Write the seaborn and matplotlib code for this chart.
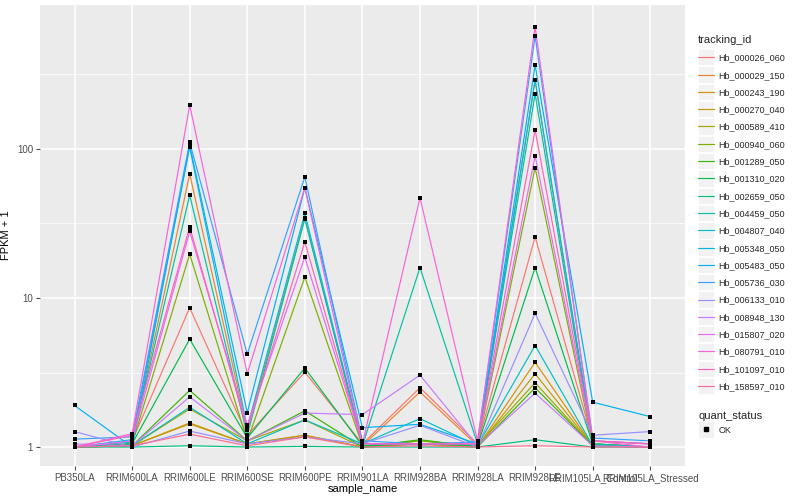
import numpy as np
import pandas as pd
import matplotlib
matplotlib.use("Agg")
import matplotlib.pyplot as plt
from matplotlib.lines import Line2D
from matplotlib.patches import Rectangle
from matplotlib.legend_handler import HandlerLine2D
import seaborn as sns

samples = ["PB350LA", "RRIM600LA", "RRIM600LE", "RRIM600SE", "RRIM600PE", "RRIM901LA",
           "RRIM928BA", "RRIM928LA", "RRIM928LE", "RRIM105LA_Control", "RRIM105LA_Stressed"]

tracking_ids = ["Hb_000026_060", "Hb_000029_150", "Hb_000243_190", "Hb_000270_040",
                "Hb_000589_410", "Hb_000940_060", "Hb_001289_050", "Hb_001310_020",
                "Hb_002659_050", "Hb_004459_050", "Hb_004807_040", "Hb_005348_050",
                "Hb_005483_050", "Hb_005736_030", "Hb_006133_010", "Hb_008948_130",
                "Hb_015807_020", "Hb_080791_010", "Hb_101097_010", "Hb_158597_010"]

v_000026_060 = [1.0, 1.10, 8.6, 1.20, 3.18, 1.05, 2.50, 1.05, 25.7, 1.10, 1.05]
v_000029_150 = [1.0, 1.05, 68, 1.30, 34.5, 1.02, 2.34, 1.02, 290, 1.05, 1.00]
v_000243_190 = [1.0, 1.02, 1.43, 1.05, 1.20, 1.00, 1.05, 1.00, 3.7, 1.02, 1.00]
v_000270_040 = [1.0, 1.02, 1.45, 1.05, 1.20, 1.00, 1.05, 1.00, 3.1, 1.02, 1.00]
v_000589_410 = [1.0, 1.02, 1.80, 1.10, 1.52, 1.00, 1.10, 1.02, 2.7, 1.02, 1.00]
v_000940_060 = [1.0, 1.05, 19.7, 1.10, 13.8, 1.02, 1.10, 1.02, 75, 1.05, 1.00]
v_001289_050 = [1.0, 1.02, 2.40, 1.10, 1.75, 1.00, 1.12, 1.00, 2.5, 1.02, 1.00]
v_001310_020 = [1.0, 1.05, 5.3, 1.15, 3.39, 1.02, 1.05, 1.02, 16, 1.05, 1.00]
v_002659_050 = [1.0, 1.00, 1.02, 1.00, 1.01, 1.00, 1.00, 1.00, 1.12, 1.00, 1.00]
v_004459_050 = [1.0, 1.08, 49, 1.20, 34, 1.02, 16, 1.05, 234, 1.05, 1.00]
v_004807_040 = [1.0, 1.02, 1.85, 1.05, 1.52, 1.05, 1.55, 1.02, 4.8, 1.02, 1.00]
v_005348_050 = [1.0, 1.12, 103, 1.35, 37, 1.05, 1.05, 1.05, 290, 1.10, 1.05]
v_005483_050 = [1.9, 1.00, 106, 1.70, 55, 1.35, 1.42, 1.05, 366, 2.00, 1.60]
v_005736_030 = [1.13, 1.17, 111, 4.20, 65, 1.10, 1.05, 1.08, 573, 1.15, 1.10]
v_006133_010 = [1.27, 1.00, 1.28, 1.05, 1.17, 1.05, 1.40, 1.00, 7.9, 1.20, 1.27]
v_008948_130 = [1.05, 1.02, 2.17, 1.10, 1.69, 1.65, 3.04, 1.02, 2.3, 1.02, 1.00]
v_015807_020 = [1.0, 1.10, 28, 1.40, 18.8, 1.05, 1.05, 1.05, 90, 1.10, 1.05]
v_080791_010 = [1.0, 1.23, 197, 3.10, 55, 1.05, 47, 1.10, 660, 1.10, 1.00]
v_101097_010 = [1.0, 1.20, 30, 1.30, 23.8, 1.05, 1.05, 1.05, 134, 1.10, 1.05]
v_158597_010 = [1.0, 1.02, 1.22, 1.02, 1.17, 1.00, 1.02, 1.00, 1.02, 1.00, 1.00]

series = [v_000026_060, v_000029_150, v_000243_190, v_000270_040, v_000589_410,
          v_000940_060, v_001289_050, v_001310_020, v_002659_050, v_004459_050,
          v_004807_040, v_005348_050, v_005483_050, v_005736_030, v_006133_010,
          v_008948_130, v_015807_020, v_080791_010, v_101097_010, v_158597_010]

colors = ["#F8766D", "#EA8331", "#D89000", "#C09B00", "#A3A500", "#7CAE00", "#39B600",
          "#00BB4E", "#00BF7D", "#00C1A3", "#00BFC4", "#00BAE0", "#00B0F6", "#35A2FF",
          "#9590FF", "#C77CFF", "#E76BF3", "#FA62DB", "#FF62BC", "#FF6C91"]

rows = []
for tid, vals in zip(tracking_ids, series):
    for s, v in zip(samples, vals):
        rows.append({"tracking_id": tid, "sample_name": s, "value": v, "quant_status": "OK"})
df = pd.DataFrame(rows)
df["pos"] = df["sample_name"].map({s: i for i, s in enumerate(samples)})

sns.set_theme(style="darkgrid")
plt.rcParams["font.family"] = ["Liberation Sans", "DejaVu Sans"]
plt.rcParams["axes.facecolor"] = "#EBEBEB"
plt.rcParams["grid.color"] = "white"

fig = plt.figure(figsize=(8, 5), dpi=100)
ax = fig.add_axes([0.05, 0.068, 0.806, 0.922])
ax.set_facecolor("#EBEBEB")

palette = dict(zip(tracking_ids, colors))
sns.lineplot(data=df, x="pos", y="value", hue="tracking_id", palette=palette,
             hue_order=tracking_ids, linewidth=0.85, legend=False, ax=ax, estimator=None,
             sort=False)
sns.scatterplot(data=df, x="pos", y="value", color="black", marker="s", s=9,
                edgecolor="black", linewidth=0, legend=False, ax=ax, zorder=5)

ax.set_yscale("log")
ax.set_ylim(0.746, 925)
ax.set_xlim(-0.6, 10.6)
ax.set_yticks([1, 10, 100])
ax.set_yticklabels(["1", "10", "100"])
ax.set_yticks([10 ** 0.5, 10 ** 1.5, 10 ** 2.5], minor=True)
ax.yaxis.set_minor_formatter(matplotlib.ticker.NullFormatter())
ax.set_xticks(range(len(samples)))
ax.set_xticklabels(samples)
ax.grid(which="major", color="white", linewidth=1.1)
ax.grid(which="minor", color="white", linewidth=0.5)
ax.tick_params(axis="both", which="major", labelsize=7, colors="#4D4D4D", length=3,
               width=0.8, pad=2, direction="out", bottom=True, left=True)
ax.tick_params(axis="both", which="minor", length=0)
for sp in ax.spines.values():
    sp.set_visible(False)
ax.set_xlabel("sample_name", fontsize=8, color="black", labelpad=1)
ax.set_ylabel("FPKM + 1", fontsize=8, color="black", labelpad=4)


class KeyHandler(HandlerLine2D):
    def create_artists(self, legend, orig_handle, xdescent, ydescent, width, height,
                       fontsize, trans):
        cy = (height - ydescent) / 2.0
        half = 5.9
        rect = Rectangle((-xdescent, cy - half), width, 2 * half, facecolor="#F2F2F2",
                         edgecolor="white", linewidth=0.6, transform=trans)
        arts = super().create_artists(legend, orig_handle, xdescent, ydescent, width,
                                      height, fontsize, trans)
        return [rect] + list(arts)


handles = [Line2D([0], [0], color=c, lw=0.85) for c in colors]
leg1 = fig.legend(handles, tracking_ids, title="tracking_id", loc="upper left",
                  bbox_to_anchor=(0.868, 0.937), frameon=False, fontsize=6.5,
                  title_fontsize=8, labelspacing=0.92, handlelength=1.8,
                  handletextpad=0.45, borderaxespad=0,
                  handler_map={Line2D: KeyHandler()})
leg1._legend_box.align = "left"
h2 = [Line2D([0], [0], color="black", marker="s", markersize=2.5, lw=0)]
leg2 = fig.legend(h2, ["OK"], title="quant_status", loc="upper left",
                  bbox_to_anchor=(0.868, 0.185), frameon=False, fontsize=6.5,
                  title_fontsize=8, handlelength=1.8,
                  handletextpad=0.45, borderaxespad=0,
                  handler_map={Line2D: KeyHandler()})
leg2._legend_box.align = "left"

fig.savefig("out.png", dpi=100)
